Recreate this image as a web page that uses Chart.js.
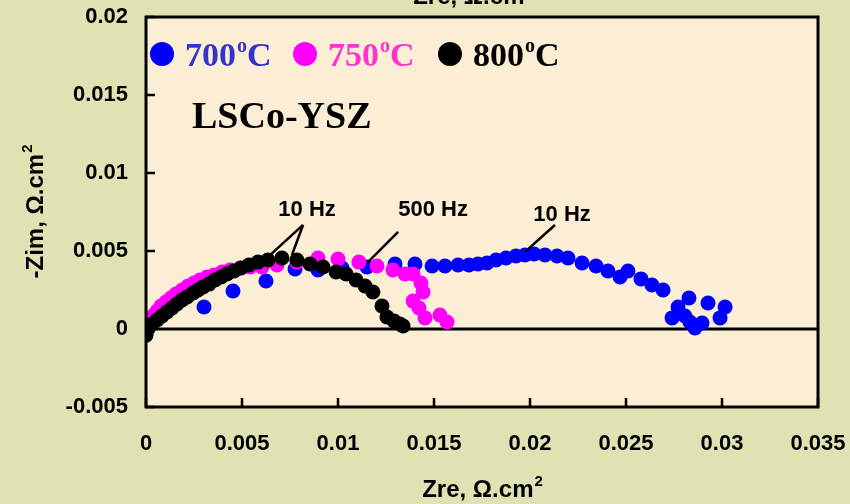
<!DOCTYPE html>
<html>
<head>
<meta charset="utf-8">
<script src="https://cdn.jsdelivr.net/npm/chart.js@4.4.1/dist/chart.umd.min.js"></script>
<style>
    html, body { margin: 0; padding: 0; background: #e0e2b3; }
    #wrap { width: 850px; height: 504px; position: relative; }
</style>
</head>
<body>
<div id="wrap"><canvas id="chart" width="850" height="504"></canvas></div>
<script>
// Impedance spectra, LSCo-YSZ cathode (Zre, -Zim in ohm.cm2)
const zre700 = [0.0000, 0.00302, 0.00453, 0.00625, 0.00776, 0.00896, 0.01021, 0.01151, 0.01297, 0.01401,
    0.01490, 0.01557, 0.01625, 0.01682, 0.01729, 0.01776, 0.01823, 0.01875, 0.01927, 0.01974,
    0.02021, 0.02078, 0.02141, 0.02198, 0.02271, 0.02344, 0.02406, 0.02469, 0.02510, 0.02578,
    0.02635, 0.02693, 0.02828, 0.02771, 0.02740, 0.02807, 0.02833, 0.02859, 0.02896, 0.02927,
    0.02990, 0.03016];
const zim700 = [0.0002, 0.00141, 0.00244, 0.00308, 0.00385, 0.00378, 0.00391, 0.00397, 0.00417, 0.00417,
    0.00404, 0.00404, 0.00410, 0.00410, 0.00417, 0.00423, 0.00442, 0.00455, 0.00468, 0.00474,
    0.00481, 0.00474, 0.00468, 0.00455, 0.00423, 0.00404, 0.00372, 0.00333, 0.00372, 0.00321,
    0.00282, 0.00250, 0.00199, 0.00141, 0.00071, 0.00083, 0.00045, 0.00006, 0.00038, 0.00167,
    0.00071, 0.00141];

const zre750 = [0.00005, 0.00021, 0.00036, 0.00057, 0.00078, 0.00104, 0.00130, 0.00156, 0.00188, 0.00219,
    0.00250, 0.00281, 0.00318, 0.00354, 0.00396, 0.00438, 0.00490, 0.00542, 0.00604, 0.00682,
    0.00786, 0.00896, 0.01000, 0.01109, 0.01203, 0.01286, 0.01349, 0.01391, 0.01432, 0.01443,
    0.01391, 0.01422, 0.01453, 0.01531, 0.01568];
const zim750 = [0.00019, 0.00051, 0.00083, 0.00115, 0.00147, 0.00173, 0.00199, 0.00224, 0.00250, 0.00276,
    0.00295, 0.00314, 0.00333, 0.00346, 0.00365, 0.00378, 0.00391, 0.00397, 0.00397, 0.00410,
    0.00429, 0.00455, 0.00449, 0.00429, 0.00404, 0.00378, 0.00353, 0.00353, 0.00295, 0.00237,
    0.00179, 0.00135, 0.00071, 0.00090, 0.00045];

const zre800 = [0.0000, 0.0001, 0.0003, 0.00057, 0.00083, 0.00109, 0.00135, 0.00161, 0.00188, 0.00214,
    0.00245, 0.00271, 0.00297, 0.00328, 0.00359, 0.00391, 0.00422, 0.00458, 0.00495, 0.00536,
    0.00583, 0.00635, 0.00708, 0.00786, 0.00854, 0.00922, 0.00990, 0.01042, 0.01094, 0.01141,
    0.01182, 0.01229, 0.01255, 0.01292, 0.01323, 0.01339];
const zim800 = [-0.0004, 0.0000, 0.0003, 0.00058, 0.00083, 0.00109, 0.00135, 0.00160, 0.00186, 0.00205,
    0.00231, 0.00250, 0.00269, 0.00288, 0.00314, 0.00333, 0.00353, 0.00372, 0.00391, 0.00410,
    0.00429, 0.00442, 0.00455, 0.00442, 0.00417, 0.00397, 0.00365, 0.00353, 0.00314, 0.00276,
    0.00237, 0.00147, 0.00077, 0.00051, 0.00032, 0.00019];

const seriesLabels = ['700', '750', '800'];
const seriesColors = ['#0000ff', '#ff00ff', '#000000'];
const legendTextColors = ['#3333cc', '#ff33cc', '#000000'];

// axis ranges / ticks
const xMin = 0, xMax = 0.035, xStep = 0.005;
const yMin = -0.005, yMax = 0.02, yStep = 0.005;

// frequency notes: text anchor and leader lines, in data units
const freqNotes = [
    { text: '10 Hz', at: [0.00839, 0.00724], lines: [[0.00818, 0.00667, 0.00646, 0.00474], [0.00818, 0.00667, 0.00760, 0.00474]] },
    { text: '500 Hz', at: [0.01495, 0.00724], lines: [[0.01313, 0.00622, 0.01151, 0.00423]] },
    { text: '10 Hz', at: [0.02167, 0.00692], lines: [[0.02130, 0.00667, 0.01974, 0.00494]] }
];

function toPoints(xs, ys) {
    return xs.map((x, i) => ({ x: x, y: ys[i] }));
}

function fmt(v) {
    return Number(v.toFixed(4)).toString();
}

const titleFont = 'bold 24px "Liberation Sans", Arial, sans-serif';
const supFont = 'bold 15px "Liberation Sans", Arial, sans-serif';

// background, frame, zero line, inward ticks, notes, legend
const decorPlugin = {
    id: 'decor',
    beforeDraw(chart) {
        const { ctx, chartArea: a } = chart;
        ctx.save();
        ctx.fillStyle = '#e0e2b3';
        ctx.fillRect(0, 0, chart.width, chart.height);
        ctx.fillStyle = '#fbeed4';
        ctx.fillRect(a.left, a.top, a.right - a.left, a.bottom - a.top);
        // zero line
        const y0 = chart.scales.y.getPixelForValue(0);
        ctx.strokeStyle = '#000';
        ctx.lineWidth = 3;
        ctx.beginPath();
        ctx.moveTo(a.left, y0);
        ctx.lineTo(a.right, y0);
        ctx.stroke();
        ctx.restore();
    },
    afterDraw(chart) {
        const { ctx, chartArea: a, scales } = chart;
        ctx.save();
        ctx.strokeStyle = '#000';
        ctx.lineWidth = 3;
        ctx.strokeRect(a.left, a.top, a.right - a.left, a.bottom - a.top);
        // inward ticks
        ctx.lineWidth = 2.5;
        scales.x.ticks.forEach(t => {
            const px = scales.x.getPixelForValue(t.value);
            ctx.beginPath();
            ctx.moveTo(px, a.bottom);
            ctx.lineTo(px, a.bottom - 9);
            ctx.stroke();
        });
        scales.y.ticks.forEach(t => {
            const py = scales.y.getPixelForValue(t.value);
            ctx.beginPath();
            ctx.moveTo(a.left, py);
            ctx.lineTo(a.left + 9, py);
            ctx.stroke();
        });

        // frequency notes
        ctx.font = 'bold 22px "Liberation Sans", Arial, sans-serif';
        ctx.fillStyle = '#000';
        ctx.textAlign = 'center';
        ctx.textBaseline = 'alphabetic';
        ctx.lineWidth = 2.5;
        freqNotes.forEach(n => {
            ctx.fillText(n.text, scales.x.getPixelForValue(n.at[0]), scales.y.getPixelForValue(n.at[1]));
            n.lines.forEach(l => {
                ctx.beginPath();
                ctx.moveTo(scales.x.getPixelForValue(l[0]), scales.y.getPixelForValue(l[1]));
                ctx.lineTo(scales.x.getPixelForValue(l[2]), scales.y.getPixelForValue(l[3]));
                ctx.stroke();
            });
        });

        // legend row
        const legX = [a.left + 16, a.left + 159, a.left + 304];
        const legY = a.top + 37;
        seriesLabels.forEach((lab, i) => {
            ctx.fillStyle = seriesColors[i];
            ctx.beginPath();
            ctx.arc(legX[i], legY, 12, 0, Math.PI * 2);
            ctx.fill();
            ctx.fillStyle = legendTextColors[i];
            ctx.textAlign = 'left';
            ctx.font = 'bold 34px "Liberation Serif", "Times New Roman", serif';
            let tx = legX[i] + 23;
            ctx.fillText(lab, tx, legY + 12);
            tx += ctx.measureText(lab).width + 1;
            ctx.font = 'bold 20px "Liberation Serif", "Times New Roman", serif';
            ctx.fillText('o', tx, legY - 2);
            tx += ctx.measureText('o').width;
            ctx.font = 'bold 34px "Liberation Serif", "Times New Roman", serif';
            ctx.fillText('C', tx, legY + 12);
        });

        // sample name
        ctx.fillStyle = '#000';
        ctx.font = 'bold 38px "Liberation Serif", "Times New Roman", serif';
        ctx.textAlign = 'left';
        ctx.fillText('LSCo-YSZ', a.left + 46, a.top + 111);

        // axis titles
        drawUnitTitle(ctx, 'Zre, \u03a9.cm', (a.left + a.right) / 2, 497);
        drawUnitTitle(ctx, 'Zre, \u03a9.cm', (a.left + a.right) / 2 - 9, 4);
        ctx.save();
        ctx.translate(43, (a.top + a.bottom) / 2);
        ctx.rotate(-Math.PI / 2);
        drawUnitTitle(ctx, '-Zim, \u03a9.cm', 0, 0);
        ctx.restore();
        ctx.restore();
    }
};

// "<text>²" centered at cx
function drawUnitTitle(ctx, text, cx, baseY) {
    ctx.font = titleFont;
    const w = ctx.measureText(text).width;
    ctx.font = supFont;
    const w2 = ctx.measureText('2').width;
    const left = cx - (w + w2) / 2;
    ctx.textAlign = 'left';
    ctx.font = titleFont;
    ctx.fillText(text, left, baseY);
    ctx.font = supFont;
    ctx.fillText('2', left + w + 1, baseY - 11);
}

const ctx = document.getElementById('chart').getContext('2d');
const datasets = [
    { label: seriesLabels[2], data: toPoints(zre800, zim800), backgroundColor: seriesColors[2] },
    { label: seriesLabels[1], data: toPoints(zre750, zim750), backgroundColor: seriesColors[1] },
    { label: seriesLabels[0], data: toPoints(zre700, zim700), backgroundColor: seriesColors[0] }
].map(d => Object.assign(d, { pointRadius: 7.5, pointBorderWidth: 0, borderWidth: 0, showLine: false }));

new Chart(ctx, {
    type: 'scatter',
    data: { datasets: datasets },
    options: {
        responsive: false,
        animation: false,
        layout: { padding: { top: 17, right: 32, left: 0, bottom: 0 } },
        plugins: {
            legend: { display: false },
            tooltip: { enabled: false }
        },
        scales: {
            x: {
                min: xMin,
                max: xMax,
                border: { display: false },
                grid: { display: false },
                ticks: {
                    stepSize: xStep,
                    color: '#000',
                    font: { family: '"Liberation Sans", Arial, sans-serif', size: 22, weight: 'bold' },
                    padding: 16,
                    maxRotation: 0,
                    callback: v => fmt(v)
                },
                afterFit: s => { s.height = 97; s.paddingLeft = 0; s.paddingRight = 0; }
            },
            y: {
                min: yMin,
                max: yMax,
                border: { display: false },
                grid: { display: false },
                ticks: {
                    stepSize: yStep,
                    color: '#000',
                    font: { family: '"Liberation Sans", Arial, sans-serif', size: 22, weight: 'bold' },
                    padding: 10,
                    callback: v => fmt(v)
                },
                afterFit: s => { s.width = 146; s.paddingTop = 0; s.paddingBottom = 0; }
            }
        }
    },
    plugins: [decorPlugin]
});
</script>
</body>
</html>
